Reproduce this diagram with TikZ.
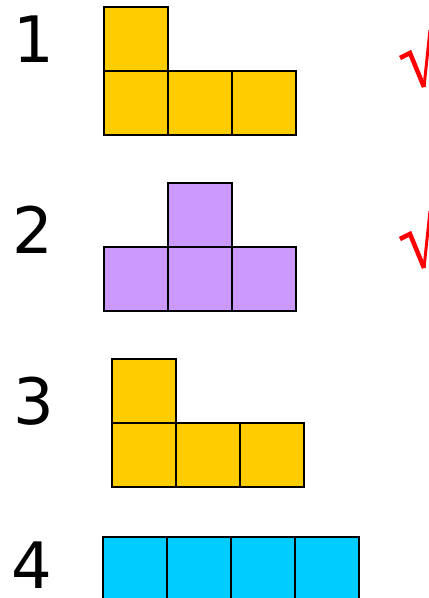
\documentclass[tikz,border=0pt]{standalone}
\usepackage{fontspec}
\setmainfont{DejaVu Sans}
\definecolor{ayellow}{HTML}{FFCC00}
\definecolor{apurple}{HTML}{CC99FF}
\definecolor{acyan}{HTML}{00CCFF}
\begin{document}
\begin{tikzpicture}[x=1pt,y=-1pt,
  cell/.style={draw=black,line width=2pt,minimum size=64pt,inner sep=0pt,outer sep=0pt,anchor=north west},
  num/.style={anchor=base,inner sep=0pt,font=\fontsize{64}{64}\selectfont},
  tick/.style={draw=red,line width=4.5pt,line join=miter}]
\useasboundingbox (0,0) rectangle (429,598);
\clip (0,0) rectangle (429,598);
% labels
\node[num] (n1) at (34,62) {1};
\node[num] (n2) at (33,253) {2};
\node[num] (n3) at (34,424) {3};
\node[num] (n4) at (32,588) {4};
% shape 1
\node[cell,fill=ayellow] (a1) at (104,7) {};
\node[cell,fill=ayellow] (a2) at (104,71) {};
\node[cell,fill=ayellow] (a3) at (168,71) {};
\node[cell,fill=ayellow] (a4) at (232,71) {};
% shape 2
\node[cell,fill=apurple] (b1) at (168,183) {};
\node[cell,fill=apurple] (b2) at (104,247) {};
\node[cell,fill=apurple] (b3) at (168,247) {};
\node[cell,fill=apurple] (b4) at (232,247) {};
% shape 3
\node[cell,fill=ayellow] (c1) at (112,359) {};
\node[cell,fill=ayellow] (c2) at (112,423) {};
\node[cell,fill=ayellow] (c3) at (176,423) {};
\node[cell,fill=ayellow] (c4) at (240,423) {};
% shape 4
\node[cell,fill=acyan] (d1) at (103,537) {};
\node[cell,fill=acyan] (d2) at (167,537) {};
\node[cell,fill=acyan] (d3) at (231,537) {};
\node[cell,fill=acyan] (d4) at (295,537) {};
% check marks
\draw[tick] (400,58) -- (410,53) -- (424,87);
\draw[draw=red,line width=3pt] (424,87) -- (430,30);
\draw[tick] (400,239) -- (410,234) -- (424,268);
\draw[draw=red,line width=3pt] (424,268) -- (430,211);
\end{tikzpicture}
\end{document}
